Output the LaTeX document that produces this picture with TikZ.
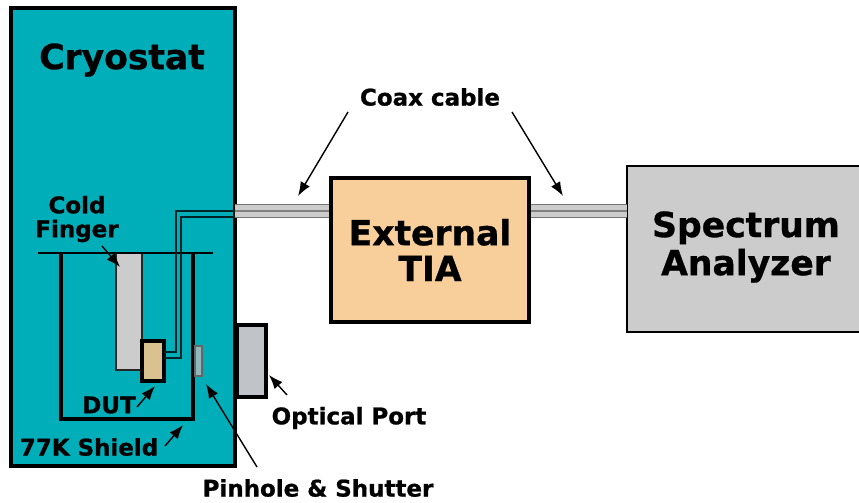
\documentclass[tikz,border=0pt]{standalone}
\usepackage{xcolor}
\usepackage{fontspec}
\setmainfont{DejaVu Sans}[BoldFeatures={FakeBold=0.9}]
\usetikzlibrary{arrows.meta}

\definecolor{cryocolor}{HTML}{00AEBA}
\definecolor{tiacolor}{HTML}{F8CE9B}
\definecolor{dutcolor}{HTML}{D9C28F}
\definecolor{fingercolor}{HTML}{CCCCCC}
\definecolor{portcolor}{HTML}{C0C4C8}
\definecolor{pinholecolor}{HTML}{8FB8BC}

\tikzset{
    box/.style={draw=black, line width=2.3pt, inner sep=0pt, font=\fontsize{29.5}{30.6}\selectfont\bfseries, align=center},
    lbl/.style={inner sep=0pt, font=\fontsize{19.6}{20.4}\selectfont\bfseries, align=center},
    pointer/.style={-{Latex[length=12pt,width=9pt]}, line width=1.2pt, black},
    wire/.style={line width=1.2pt, draw=black!80!cryocolor},
}

\begin{document}
\begin{tikzpicture}[x=0.03cm, y=-0.03cm]
        \useasboundingbox (0,0) rectangle (859,503);

        % main boxes
        \draw[line width=2.6pt, fill=cryocolor] (11,8) rectangle (235,466);
        \node[box, fill=tiacolor, minimum width=5.88cm, minimum height=4.26cm] (tia) at (430,250) {External\\TIA};
        \draw[line width=2.4pt, fill=fingercolor] (627,166) rectangle (864,332);
        \node[inner sep=0pt, align=center, font=\fontsize{29.5}{32.5}\selectfont\bfseries] (sa) at (746,247) {Spectrum\\Analyzer};
        \coordinate (saw) at (627,211);

        % coax
        \coordinate (c1) at (235,211);
        \draw[line width=12.4pt, draw=black!55] (c1) -- (c1 -| tia.west);
        \draw[line width=10.4pt, draw=fingercolor] (c1) -- (c1 -| tia.west);
        \draw[line width=1.6pt, draw=black!50] (c1) -- (c1 -| tia.west);
        \draw[line width=12.4pt, draw=black!55] (tia.east |- saw) -- (saw);
        \draw[line width=10.4pt, draw=fingercolor] (tia.east |- saw) -- (saw);
        \draw[line width=1.6pt, draw=black!50] (tia.east |- saw) -- (saw);
        \draw[line width=2.3pt] (tia.north west) rectangle (tia.south east);

        % inside the cryostat
        \draw[line width=1.7pt, fill=fingercolor, draw=black!85] (116,253) rectangle (142,370);
        \draw[line width=2.6pt] (61,253) -- (61,419) -- (193,419) -- (193,253);
        \draw[line width=1.3pt] (38,253) -- (213,253);
        \draw[line width=2.6pt, fill=dutcolor] (142,341) rectangle (164,381);
        \draw[line width=1pt, fill=pinholecolor, draw=black!60] (195,346) rectangle (202,376);
        \draw[wire] (164,352) -- (176,352) -- (176,211) -- (235,211);
        \draw[wire] (164,358) -- (181,358) -- (181,217) -- (235,217);

        % optical port
        \draw[line width=2.8pt, fill=portcolor] (237,325) rectangle (266,397);

        % labels
        \node[inner sep=0pt, font=\fontsize{29.5}{30}\selectfont\bfseries] (cryo) at (122,60) {Cryostat};
        \node[lbl] (coax) at (430,97) {Coax cable};
        \node[lbl] (finger) at (77,219) {Cold\\Finger};
        \node[lbl] (dut) at (109,405) {DUT};
        \node[lbl] (shield) at (89,447) {77K Shield};
        \node[lbl] (port) at (349,418) {Optical Port};
        \node[lbl] (pin) at (318,488) {Pinhole \& Shutter};

        % pointers
        \coordinate (p1) at (348,112);
        \coordinate (p2) at (298,196);
        \coordinate (p3) at (512,112);
        \coordinate (p4) at (563,196);
        \coordinate (p5) at (102,246);
        \coordinate (p6) at (120,267);
        \coordinate (p7) at (137,407);
        \coordinate (p8) at (155,386);
        \coordinate (p9) at (165,446);
        \coordinate (p10) at (183,425);
        \coordinate (p11) at (257,467);
        \coordinate (p12) at (206,384);
        \coordinate (p13) at (287,395);
        \coordinate (p14) at (269,375);
        \draw[pointer] (p1) -- (p2);
        \draw[pointer] (p3) -- (p4);
        \draw[pointer] (p5) -- (p6);
        \draw[pointer] (p7) -- (p8);
        \draw[pointer] (p9) -- (p10);
        \draw[pointer] (p11) -- (p12);
        \draw[pointer] (p13) -- (p14);
    \end{tikzpicture}
\end{document}
